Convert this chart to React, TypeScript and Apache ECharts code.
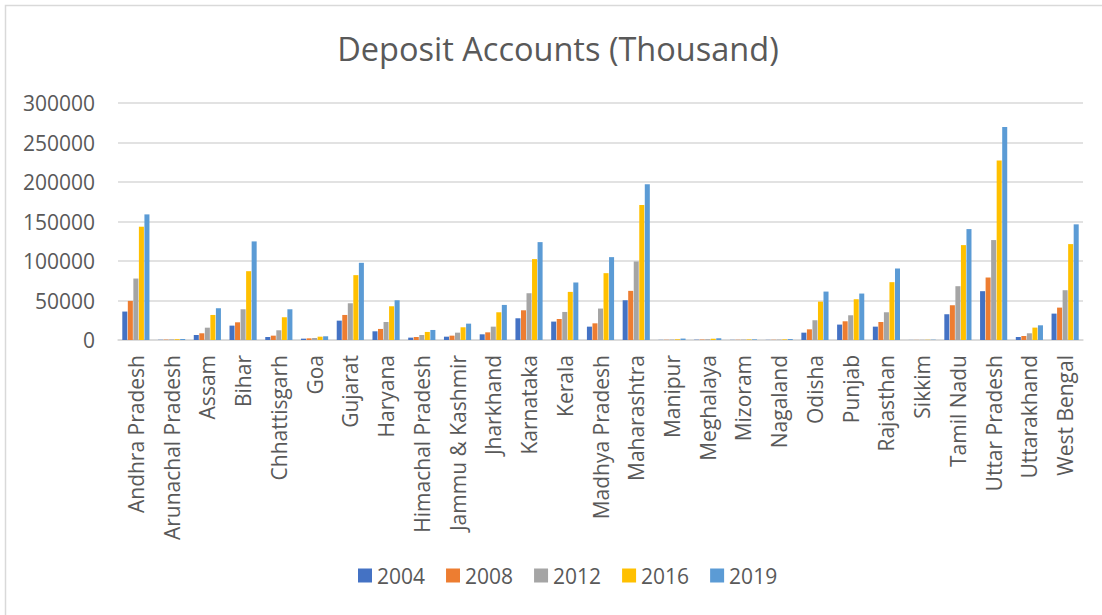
import React, { useEffect, useRef } from "react";
import * as echarts from "echarts";

const categories = [
  "Andhra Pradesh", "Arunachal Pradesh", "Assam", "Bihar", "Chhattisgarh", "Goa",
  "Gujarat", "Haryana", "Himachal Pradesh", "Jammu & Kashmir", "Jharkhand", "Karnataka",
  "Kerala", "Madhya Pradesh", "Maharashtra", "Manipur", "Meghalaya", "Mizoram",
  "Nagaland", "Odisha", "Punjab", "Rajasthan", "Sikkim", "Tamil Nadu",
  "Uttar Pradesh", "Uttarakhand", "West Bengal",
];

const years = ["2004", "2008", "2012", "2016", "2019"];

const v2004 = [36000, 300, 6300, 18200, 3800, 1700, 24500, 11000, 3000, 4200, 7200, 27500, 23300, 16900, 50300, 200, 400, 200, 200, 9300, 19500, 16900, 100, 32600, 61800, 3800, 33400];
const v2008 = [49500, 500, 8500, 22400, 5500, 2100, 31700, 14000, 3800, 5500, 9700, 37600, 26600, 21100, 62200, 300, 600, 300, 300, 13500, 23700, 22800, 150, 44000, 79100, 5100, 41000];
const v2012 = [77800, 700, 15600, 38900, 12300, 2500, 46500, 22800, 6300, 9300, 16900, 59200, 35500, 39800, 99400, 500, 900, 500, 500, 25000, 31300, 35100, 200, 68100, 126500, 8500, 63000];
const v2016 = [143400, 1000, 31700, 87100, 28800, 4200, 82100, 42700, 10200, 16100, 35100, 102400, 60900, 84600, 170900, 900, 1600, 700, 800, 48600, 51600, 73200, 300, 120100, 227200, 15700, 121400];
const v2019 = [159000, 1300, 40200, 124800, 38900, 4700, 97700, 50300, 12700, 20700, 44400, 123900, 72800, 104900, 197100, 1800, 2200, 800, 1200, 61300, 58800, 90500, 400, 140400, 269500, 18600, 146400];

const seriesValues = [v2004, v2008, v2012, v2016, v2019];
const colors = ["#4472C4", "#ED7D31", "#A5A5A5", "#FFC000", "#5B9BD5"];

const FONT = "'Open Sans', 'Noto Sans', sans-serif";
const TEXT = "#595959";

export default function App() {
  const ref = useRef<HTMLDivElement>(null);
  useEffect(() => {
    if (!ref.current) return;
    const chart = echarts.init(ref.current, null, { renderer: "svg" });
    chart.setOption({
      animation: false,
      backgroundColor: "#ffffff",
      color: colors,
      textStyle: { fontFamily: FONT },
      title: {
        text: "Deposit Accounts (Thousand)",
        left: 553,
        textAlign: "center",
        top: 27,
        textStyle: { fontFamily: FONT, fontSize: 32.5, fontWeight: "normal", color: TEXT },
      },
      graphic: [
        {
          type: "polyline",
          shape: { points: [[5.5, 620], [5.5, 5.5], [1110, 5.5]] },
          style: { stroke: "#d9d9d9", lineWidth: 1.5, fill: "none" },
        },
      ],
      legend: {
        bottom: 24,
        left: 353,
        itemWidth: 14,
        itemHeight: 14,
        itemGap: 21,
        icon: "rect",
        textStyle: { fontFamily: FONT, fontSize: 21, color: TEXT },
        data: years,
      },
      grid: { left: 118, right: 19, top: 103, bottom: 275, containLabel: false },
      xAxis: {
        type: "category",
        data: categories,
        axisLine: { lineStyle: { color: "#d9d9d9", width: 1.5 } },
        axisTick: { show: false },
        axisLabel: {
          rotate: 90,
          interval: 0,
          margin: 15,
          fontFamily: FONT,
          fontSize: 21,
          color: TEXT,
        },
      },
      yAxis: {
        type: "value",
        min: 0,
        max: 300000,
        interval: 50000,
        axisLine: { show: false },
        axisTick: { show: false },
        splitLine: { lineStyle: { color: "#d9d9d9", width: 1.5 } },
        axisLabel: {
          fontFamily: FONT,
          fontSize: 21,
          color: TEXT,
          margin: 23,
          formatter: (v: number) => String(v),
        },
      },
      series: years.map((y, i) => ({
        name: y,
        type: "bar",
        data: seriesValues[i],
        barGap: "10%",
        barCategoryGap: "24%",
        itemStyle: { color: colors[i] },
      })),
    });
    return () => chart.dispose();
  }, []);
  return (
    <div
      ref={ref}
      style={{ position: "fixed", left: 0, top: 0, width: 1102, height: 615 }}
    />
  );
}
